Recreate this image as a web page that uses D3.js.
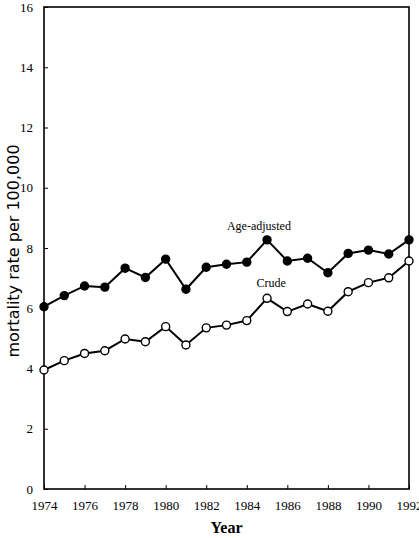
<!DOCTYPE html>
<html>
<head>
<meta charset="utf-8">
<script src="https://cdn.jsdelivr.net/npm/d3@7"></script>
<style>
  body { margin: 0; background: #fff; }
  svg { display: block; }
</style>
</head>
<body>
<div id="chart"></div>
<script>
// Data
const years = [1974, 1975, 1976, 1977, 1978, 1979, 1980, 1981, 1982, 1983,
  1984, 1985, 1986, 1987, 1988, 1989, 1990, 1991, 1992];
const ageAdjusted = [6.05, 6.42, 6.74, 6.70, 7.33, 7.02, 7.63, 6.63, 7.36, 7.46,
  7.53, 8.27, 7.57, 7.66, 7.18, 7.82, 7.93, 7.80, 8.27];
const crude = [3.95, 4.26, 4.50, 4.59, 4.98, 4.89, 5.39, 4.78, 5.35, 5.44,
  5.59, 6.33, 5.89, 6.14, 5.90, 6.55, 6.85, 7.01, 7.57];
const xTicks = [1974, 1976, 1978, 1980, 1982, 1984, 1986, 1988, 1990, 1992];
const yTicks = [0, 2, 4, 6, 8, 10, 12, 14, 16];

const W = 419;
const H = 538;
const margin = { top: 7, right: 10, bottom: 49, left: 44 };
const width = W - margin.left - margin.right;
const height = H - margin.top - margin.bottom;
const serif = '"Liberation Serif", "Times New Roman", serif';

const svg = d3
  .select('#chart')
  .append('svg')
  .attr('width', W)
  .attr('height', H);

const g = svg.append('g').attr('transform', `translate(${margin.left}, ${margin.top})`);

const x = d3.scaleLinear().domain([1974, 1992]).range([0, width]);
const y = d3.scaleLinear().domain([0, 16]).range([height, 0]);

// frame
g.append('rect')
  .attr('x', 0)
  .attr('y', 0)
  .attr('width', width)
  .attr('height', height)
  .attr('fill', 'none')
  .attr('stroke', '#000')
  .attr('stroke-width', 1.6);

// axes, ticks pointing inward
const xAxis = g
  .append('g')
  .attr('transform', `translate(0, ${height})`)
  .call(d3.axisBottom(x).tickValues(xTicks).tickFormat(d3.format('d')).tickSizeInner(-4).tickSizeOuter(0).tickPadding(12));
const yAxis = g
  .append('g')
  .call(d3.axisLeft(y).tickValues(yTicks).tickSizeInner(-4).tickSizeOuter(0).tickPadding(11));

[xAxis, yAxis].forEach((ax) => {
  ax.attr('font-family', serif).attr('font-size', 13);
  ax.select('.domain').remove();
  ax.selectAll('line').attr('stroke', '#000').attr('stroke-width', 1);
  ax.selectAll('text').attr('fill', '#000');
});

// series
const line = d3.line().x((d) => x(d.year)).y((d) => y(d.value));
const series = [
  { name: 'Age-adjusted', values: ageAdjusted, fill: '#000' },
  { name: 'Crude', values: crude, fill: '#fff' },
];

series.forEach((s) => {
  const pts = years.map((yr, i) => ({ year: yr, value: s.values[i] }));
  g.append('path')
    .datum(pts)
    .attr('d', line)
    .attr('fill', 'none')
    .attr('stroke', '#000')
    .attr('stroke-width', 2);
  g.selectAll(null)
    .data(pts)
    .enter()
    .append('circle')
    .attr('cx', (d) => x(d.year))
    .attr('cy', (d) => y(d.value))
    .attr('r', 4)
    .attr('fill', s.fill)
    .attr('stroke', '#000')
    .attr('stroke-width', 1.4);
});

// series labels
g.append('text')
  .attr('x', x(1984.6))
  .attr('y', y(8.6))
  .attr('text-anchor', 'middle')
  .attr('font-family', serif)
  .attr('font-size', 12)
  .text('Age-adjusted');
g.append('text')
  .attr('x', x(1985.2))
  .attr('y', y(6.7))
  .attr('text-anchor', 'middle')
  .attr('font-family', serif)
  .attr('font-size', 12)
  .text('Crude');

// axis titles
svg.append('text')
  .attr('transform', 'translate(19, 251) rotate(-90)')
  .attr('text-anchor', 'middle')
  .attr('font-family', '"DejaVu Sans", sans-serif')
  .attr('font-size', 16)
  .text('mortality rate per 100,000');

svg.append('text')
  .attr('x', margin.left + width / 2)
  .attr('y', 533)
  .attr('text-anchor', 'middle')
  .attr('font-family', serif)
  .attr('font-size', 16)
  .attr('font-weight', 'bold')
  .text('Year');
</script>
</body>
</html>
